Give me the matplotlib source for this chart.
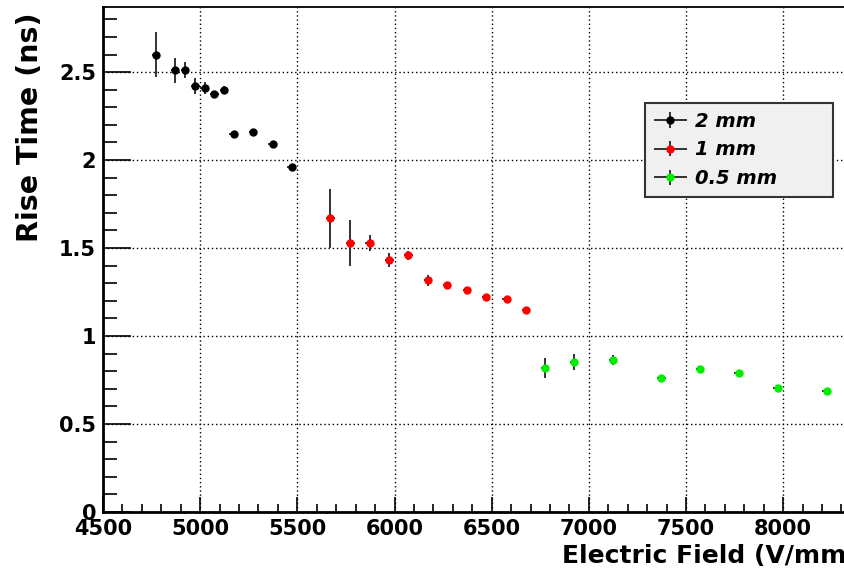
import matplotlib.pyplot as plt
from matplotlib.ticker import MultipleLocator
from matplotlib.container import ErrorbarContainer
from matplotlib.legend_handler import HandlerErrorbar

plt.rcParams['font.family'] = ['DejaVu Sans']

# 2 mm gap
field_2mm = [4772, 4870, 4923, 4975, 5023, 5073, 5122, 5172, 5273, 5373, 5470]
rise_2mm = [2.60, 2.51, 2.51, 2.42, 2.41, 2.375, 2.40, 2.15, 2.16, 2.09, 1.96]
err_2mm = [0.13, 0.07, 0.045, 0.045, 0.035, 0.02, 0.02, 0.015, 0.015, 0.015, 0.01]

# 1 mm gap
field_1mm = [5670, 5773, 5872, 5973, 6072, 6173, 6271, 6372, 6471, 6577, 6676]
rise_1mm = [1.67, 1.53, 1.53, 1.43, 1.46, 1.317, 1.29, 1.26, 1.22, 1.21, 1.148]
err_1mm = [0.167, 0.13, 0.045, 0.04, 0.025, 0.03, 0.015, 0.015, 0.01, 0.01, 0.01]

# 0.5 mm gap
field_05mm = [6774, 6923, 7124, 7373, 7573, 7771, 7971, 8223]
rise_05mm = [0.816, 0.852, 0.864, 0.763, 0.815, 0.79, 0.706, 0.688]
err_05mm = [0.057, 0.045, 0.03, 0.01, 0.015, 0.01, 0.01, 0.008]

field_err = 22

fig = plt.figure(figsize=(8.44, 5.72), dpi=100)
ax = fig.add_axes([103 / 844, 1 - 512 / 572, 1 - 103 / 844, (512 - 7) / 572])

series = [
    (field_2mm, rise_2mm, err_2mm, 'black', '2 mm'),
    (field_1mm, rise_1mm, err_1mm, '#ff0000', '1 mm'),
    (field_05mm, rise_05mm, err_05mm, '#00ee00', '0.5 mm'),
]
for x, y, e, col, lab in series:
    ax.errorbar(x, y, yerr=e, xerr=field_err, fmt='o', color=col, ms=5,
                ecolor='#222222', elinewidth=1.3, capsize=0, label=lab, zorder=3)

ax.set_xlim(4500, 8313)
ax.set_ylim(0, 2.87)
ax.xaxis.set_major_locator(MultipleLocator(500))
ax.xaxis.set_minor_locator(MultipleLocator(100))
ax.yaxis.set_major_locator(MultipleLocator(0.5))
ax.yaxis.set_minor_locator(MultipleLocator(0.1))
ax.yaxis.set_major_formatter(plt.FuncFormatter(lambda v, p: f'{v:g}'))

ax.grid(True, which='major', color='black', linestyle=(0, (1, 2)), linewidth=1.0)
ax.tick_params(axis='both', which='both', direction='in', top=False, right=False)
ax.tick_params(axis='x', which='major', length=11, width=1.2, labelsize=15, pad=5)
ax.tick_params(axis='x', which='minor', length=6, width=1.2)
ax.tick_params(axis='y', which='major', length=20, width=1.2, labelsize=15, pad=5)
ax.tick_params(axis='y', which='minor', length=10, width=1.2)
for lbl in ax.get_xticklabels() + ax.get_yticklabels():
    lbl.set_fontweight('bold')

ax.spines['left'].set_linewidth(2)
ax.spines['bottom'].set_linewidth(2)
ax.spines['top'].set_linewidth(1.3)
ax.spines['right'].set_visible(False)

ax.set_ylabel('Rise Time (ns)', fontsize=20.5, fontweight='bold', loc='top')
ax.yaxis.set_label_coords(-0.08, 0.99)
fig.text(562 / 844, 1 - 556 / 572, 'Electric Field (V/mm)', fontsize=18,
         fontweight='bold', ha='left', va='center')

leg = ax.legend(loc='upper left',
                bbox_to_anchor=(645 / 844, 1 - 197 / 572, 188 / 844, 94 / 572),
                bbox_transform=fig.transFigure, mode='expand',
                fancybox=False, shadow=False,
                prop={'weight': 'bold', 'style': 'italic', 'size': 14},
                handler_map={ErrorbarContainer: HandlerErrorbar(xerr_size=0.85, yerr_size=0.4)},
                handlelength=1.7, handletextpad=0.4, labelspacing=0.5,
                borderpad=0.45, borderaxespad=0, framealpha=1)
leg.get_frame().set_facecolor('#f0f0f0')
leg.get_frame().set_edgecolor('#333333')
leg.get_frame().set_linewidth(1.5)

fig.savefig('out.png', dpi=100)
